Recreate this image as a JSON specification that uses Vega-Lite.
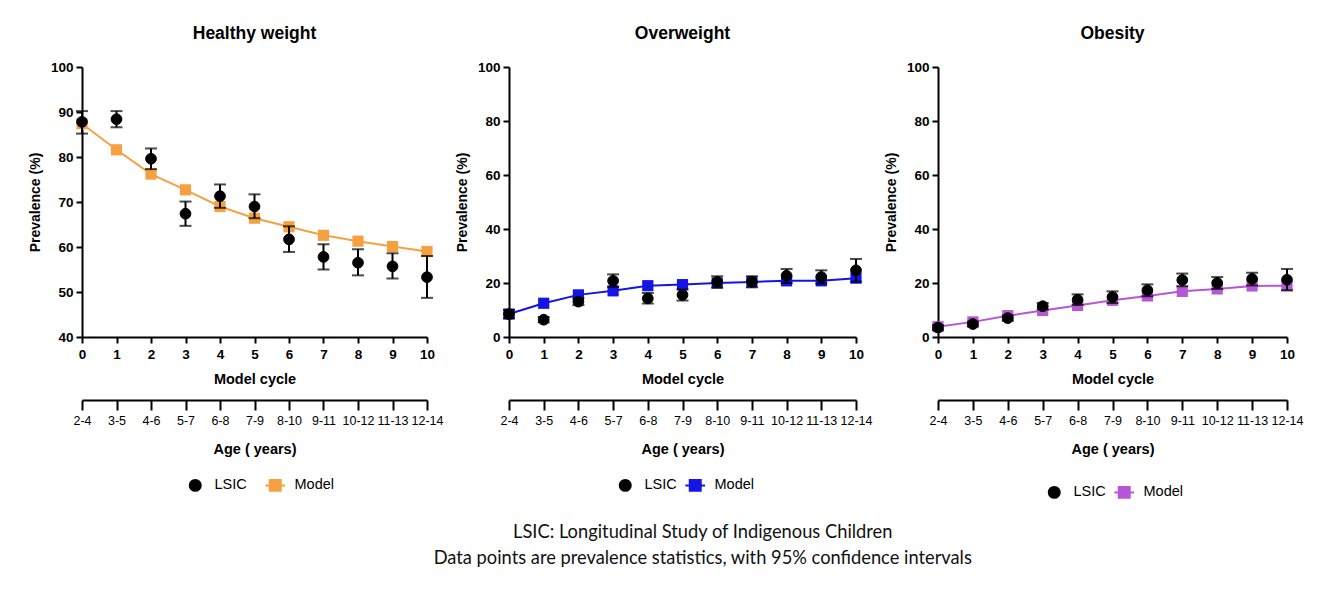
{
  "$schema": "https://vega.github.io/schema/vega-lite/v6.json",
  "padding": {"left": 28, "top": 24, "right": 10, "bottom": 10},
  "background": "white",
  "data": {"values": [
    {"p":"Healthy weight","c":0,"s":"LSIC","v":87.8,"lo":85.2,"hi":90.2},
    {"p":"Healthy weight","c":1,"s":"LSIC","v":88.4,"lo":86.6,"hi":90.2},
    {"p":"Healthy weight","c":2,"s":"LSIC","v":79.6,"lo":77.3,"hi":81.9},
    {"p":"Healthy weight","c":3,"s":"LSIC","v":67.4,"lo":64.7,"hi":70.1},
    {"p":"Healthy weight","c":4,"s":"LSIC","v":71.3,"lo":68.7,"hi":73.9},
    {"p":"Healthy weight","c":5,"s":"LSIC","v":69.0,"lo":66.4,"hi":71.7},
    {"p":"Healthy weight","c":6,"s":"LSIC","v":61.7,"lo":58.9,"hi":64.6},
    {"p":"Healthy weight","c":7,"s":"LSIC","v":57.8,"lo":55.0,"hi":60.6},
    {"p":"Healthy weight","c":8,"s":"LSIC","v":56.5,"lo":53.7,"hi":59.5},
    {"p":"Healthy weight","c":9,"s":"LSIC","v":55.7,"lo":53.0,"hi":58.6},
    {"p":"Healthy weight","c":10,"s":"LSIC","v":53.3,"lo":48.7,"hi":58.0},
    {"p":"Healthy weight","c":0,"s":"Model","v":87.4},
    {"p":"Healthy weight","c":1,"s":"Model","v":81.6},
    {"p":"Healthy weight","c":2,"s":"Model","v":76.2},
    {"p":"Healthy weight","c":3,"s":"Model","v":72.7},
    {"p":"Healthy weight","c":4,"s":"Model","v":69.0},
    {"p":"Healthy weight","c":5,"s":"Model","v":66.4},
    {"p":"Healthy weight","c":6,"s":"Model","v":64.5},
    {"p":"Healthy weight","c":7,"s":"Model","v":62.6},
    {"p":"Healthy weight","c":8,"s":"Model","v":61.3},
    {"p":"Healthy weight","c":9,"s":"Model","v":60.1},
    {"p":"Healthy weight","c":10,"s":"Model","v":59.0},
    {"p":"Overweight","c":0,"s":"LSIC","v":8.5,"lo":7.0,"hi":10.0},
    {"p":"Overweight","c":1,"s":"LSIC","v":6.4,"lo":5.4,"hi":7.4},
    {"p":"Overweight","c":2,"s":"LSIC","v":13.1,"lo":11.8,"hi":14.4},
    {"p":"Overweight","c":3,"s":"LSIC","v":20.8,"lo":18.5,"hi":23.2},
    {"p":"Overweight","c":4,"s":"LSIC","v":14.3,"lo":12.4,"hi":16.3},
    {"p":"Overweight","c":5,"s":"LSIC","v":15.6,"lo":13.5,"hi":17.6},
    {"p":"Overweight","c":6,"s":"LSIC","v":20.4,"lo":18.3,"hi":22.5},
    {"p":"Overweight","c":7,"s":"LSIC","v":20.5,"lo":18.4,"hi":22.5},
    {"p":"Overweight","c":8,"s":"LSIC","v":22.7,"lo":20.0,"hi":25.2},
    {"p":"Overweight","c":9,"s":"LSIC","v":22.2,"lo":19.8,"hi":24.7},
    {"p":"Overweight","c":10,"s":"LSIC","v":24.7,"lo":20.5,"hi":28.9},
    {"p":"Overweight","c":0,"s":"Model","v":8.5},
    {"p":"Overweight","c":1,"s":"Model","v":12.5},
    {"p":"Overweight","c":2,"s":"Model","v":15.6},
    {"p":"Overweight","c":3,"s":"Model","v":17.1},
    {"p":"Overweight","c":4,"s":"Model","v":19.0},
    {"p":"Overweight","c":5,"s":"Model","v":19.4},
    {"p":"Overweight","c":6,"s":"Model","v":20.0},
    {"p":"Overweight","c":7,"s":"Model","v":20.4},
    {"p":"Overweight","c":8,"s":"Model","v":20.8},
    {"p":"Overweight","c":9,"s":"Model","v":20.8},
    {"p":"Overweight","c":10,"s":"Model","v":21.8},
    {"p":"Obesity","c":0,"s":"LSIC","v":3.5,"lo":2.6,"hi":4.4},
    {"p":"Obesity","c":1,"s":"LSIC","v":4.8,"lo":3.9,"hi":5.7},
    {"p":"Obesity","c":2,"s":"LSIC","v":7.0,"lo":6.0,"hi":8.0},
    {"p":"Obesity","c":3,"s":"LSIC","v":11.4,"lo":10.2,"hi":12.6},
    {"p":"Obesity","c":4,"s":"LSIC","v":13.8,"lo":11.9,"hi":15.8},
    {"p":"Obesity","c":5,"s":"LSIC","v":14.8,"lo":12.6,"hi":16.9},
    {"p":"Obesity","c":6,"s":"LSIC","v":17.3,"lo":15.1,"hi":19.5},
    {"p":"Obesity","c":7,"s":"LSIC","v":21.1,"lo":18.8,"hi":23.5},
    {"p":"Obesity","c":8,"s":"LSIC","v":20.0,"lo":17.8,"hi":22.2},
    {"p":"Obesity","c":9,"s":"LSIC","v":21.5,"lo":19.1,"hi":23.8},
    {"p":"Obesity","c":10,"s":"LSIC","v":21.2,"lo":17.3,"hi":25.2},
    {"p":"Obesity","c":0,"s":"Model","v":3.8},
    {"p":"Obesity","c":1,"s":"Model","v":5.6},
    {"p":"Obesity","c":2,"s":"Model","v":7.9},
    {"p":"Obesity","c":3,"s":"Model","v":9.8},
    {"p":"Obesity","c":4,"s":"Model","v":11.7},
    {"p":"Obesity","c":5,"s":"Model","v":13.6},
    {"p":"Obesity","c":6,"s":"Model","v":15.2},
    {"p":"Obesity","c":7,"s":"Model","v":16.9},
    {"p":"Obesity","c":8,"s":"Model","v":17.8},
    {"p":"Obesity","c":9,"s":"Model","v":18.9},
    {"p":"Obesity","c":10,"s":"Model","v":19.0}
  ]},
  "title": {
    "text": ["LSIC: Longitudinal Study of Indigenous Children", "Data points are prevalence statistics, with 95% confidence intervals"],
    "orient": "bottom", "anchor": "middle", "font": "Lato", "fontSize": 18.3, "fontWeight": "normal", "color": "#111", "lineHeight": 26, "offset": 22, "dx": 37
  },
  "spacing": 12,
  "resolve": {"scale": {"color": "independent", "shape": "independent", "stroke": "independent", "x": "independent", "y": "independent"}},
  "hconcat": [
    {
      "width": 345, "height": 270,
      "title": {"text": "Healthy weight"},
      "transform": [{"filter": "datum.p == 'Healthy weight'"}],
      "resolve": {"axis": {"x": "independent"}},
      "encoding": {
        "x": {"field": "c", "type": "quantitative", "scale": {"domain": [0, 10], "nice": false}},
        "y": {"field": "v", "type": "quantitative", "scale": {"domain": [40, 100], "nice": false, "zero": false},
              "axis": {"title": "Prevalence (%)", "values": [40, 50, 60, 70, 80, 90, 100]}}
      },
      "layer": [
        {"transform": [{"filter": "datum.s == 'Model'"}], "mark": {"type": "line", "color": "#F5A142", "strokeWidth": 2},
         "encoding": {"x": {"field": "c", "type": "quantitative", "axis": {"title": "Model cycle", "values": [0,1,2,3,4,5,6,7,8,9,10]}}}},
        {"transform": [{"filter": "datum.s == 'Model'"}], "mark": {"type": "point", "filled": true, "opacity": 1, "size": 125, "shape": "square", "color": "#F5A142"},
         "encoding": {"x": {"field": "c", "type": "quantitative", "axis": null}}},
        {"transform": [{"filter": "datum.s == 'LSIC'"}], "mark": {"type": "errorbar", "ticks": true, "size": 12, "thickness": 2, "color": "black"},
         "encoding": {"x": {"field": "c", "type": "quantitative", "axis": null}, "y": {"field": "lo", "type": "quantitative"}, "y2": {"field": "hi"}}},
        {"transform": [{"filter": "datum.s == 'LSIC'"}], "mark": {"type": "point", "filled": true, "opacity": 1, "size": 115, "strokeWidth": 1},
         "encoding": {"x": {"field": "c", "type": "quantitative", "axis": null},
           "color": {"field": "s", "type": "nominal", "scale": {"domain": ["LSIC", "Model"], "range": ["black", "#F5A142"]},
             "legend": {"orient": "none", "legendX": 106, "legendY": 411, "direction": "horizontal", "title": null, "columnPadding": 14}},
           "stroke": {"field": "s", "type": "nominal", "scale": {"domain": ["LSIC", "Model"], "range": ["black", "#F5A142"]}},
           "shape": {"field": "s", "type": "nominal", "scale": {"domain": ["LSIC", "Model"], "range": ["circle", "M-1.8,0H1.8M-1,-1H1V1H-1Z"]}}}},
        {"transform": [{"filter": "datum.s == 'Model'"}], "mark": {"type": "point", "opacity": 0},
         "encoding": {"x": {"field": "c", "type": "quantitative", "axis": {"title": "Age ( years)", "orient": "bottom", "offset": 63, "values": [0,1,2,3,4,5,6,7,8,9,10],
           "labelExpr": "(datum.value + 2) + '-' + (datum.value + 4)", "labelFontWeight": "normal", "labelFontSize": 12.5, "tickSize": 10, "titlePadding": 16}}}}
      ]
    },
    {
      "width": 347, "height": 270,
      "title": {"text": "Overweight"},
      "transform": [{"filter": "datum.p == 'Overweight'"}],
      "resolve": {"axis": {"x": "independent"}},
      "encoding": {
        "x": {"field": "c", "type": "quantitative", "scale": {"domain": [0, 10], "nice": false}},
        "y": {"field": "v", "type": "quantitative", "scale": {"domain": [0, 100], "nice": false},
              "axis": {"title": "Prevalence (%)", "values": [0, 20, 40, 60, 80, 100]}}
      },
      "layer": [
        {"transform": [{"filter": "datum.s == 'Model'"}], "mark": {"type": "line", "color": "#1414E6", "strokeWidth": 2},
         "encoding": {"x": {"field": "c", "type": "quantitative", "axis": {"title": "Model cycle", "values": [0,1,2,3,4,5,6,7,8,9,10]}}}},
        {"transform": [{"filter": "datum.s == 'Model'"}], "mark": {"type": "point", "filled": true, "opacity": 1, "size": 125, "shape": "square", "color": "#1414E6"},
         "encoding": {"x": {"field": "c", "type": "quantitative", "axis": null}}},
        {"transform": [{"filter": "datum.s == 'LSIC'"}], "mark": {"type": "errorbar", "ticks": true, "size": 12, "thickness": 2, "color": "black"},
         "encoding": {"x": {"field": "c", "type": "quantitative", "axis": null}, "y": {"field": "lo", "type": "quantitative"}, "y2": {"field": "hi"}}},
        {"transform": [{"filter": "datum.s == 'LSIC'"}], "mark": {"type": "point", "filled": true, "opacity": 1, "size": 115, "strokeWidth": 1},
         "encoding": {"x": {"field": "c", "type": "quantitative", "axis": null},
           "color": {"field": "s", "type": "nominal", "scale": {"domain": ["LSIC", "Model"], "range": ["black", "#1414E6"]},
             "legend": {"orient": "none", "legendX": 109, "legendY": 411, "direction": "horizontal", "title": null, "columnPadding": 4}},
           "stroke": {"field": "s", "type": "nominal", "scale": {"domain": ["LSIC", "Model"], "range": ["black", "#1414E6"]}},
           "shape": {"field": "s", "type": "nominal", "scale": {"domain": ["LSIC", "Model"], "range": ["circle", "M-1.8,0H1.8M-1,-1H1V1H-1Z"]}}}},
        {"transform": [{"filter": "datum.s == 'Model'"}], "mark": {"type": "point", "opacity": 0},
         "encoding": {"x": {"field": "c", "type": "quantitative", "axis": {"title": "Age ( years)", "orient": "bottom", "offset": 63, "values": [0,1,2,3,4,5,6,7,8,9,10],
           "labelExpr": "(datum.value + 2) + '-' + (datum.value + 4)", "labelFontWeight": "normal", "labelFontSize": 12.5, "tickSize": 10, "titlePadding": 16}}}}
      ]
    },
    {
      "width": 349, "height": 270,
      "title": {"text": "Obesity"},
      "transform": [{"filter": "datum.p == 'Obesity'"}],
      "resolve": {"axis": {"x": "independent"}},
      "encoding": {
        "x": {"field": "c", "type": "quantitative", "scale": {"domain": [0, 10], "nice": false}},
        "y": {"field": "v", "type": "quantitative", "scale": {"domain": [0, 100], "nice": false},
              "axis": {"title": "Prevalence (%)", "values": [0, 20, 40, 60, 80, 100]}}
      },
      "layer": [
        {"transform": [{"filter": "datum.s == 'Model'"}], "mark": {"type": "line", "color": "#B656D8", "strokeWidth": 2},
         "encoding": {"x": {"field": "c", "type": "quantitative", "axis": {"title": "Model cycle", "values": [0,1,2,3,4,5,6,7,8,9,10]}}}},
        {"transform": [{"filter": "datum.s == 'Model'"}], "mark": {"type": "point", "filled": true, "opacity": 1, "size": 125, "shape": "square", "color": "#B656D8"},
         "encoding": {"x": {"field": "c", "type": "quantitative", "axis": null}}},
        {"transform": [{"filter": "datum.s == 'LSIC'"}], "mark": {"type": "errorbar", "ticks": true, "size": 12, "thickness": 2, "color": "black"},
         "encoding": {"x": {"field": "c", "type": "quantitative", "axis": null}, "y": {"field": "lo", "type": "quantitative"}, "y2": {"field": "hi"}}},
        {"transform": [{"filter": "datum.s == 'LSIC'"}], "mark": {"type": "point", "filled": true, "opacity": 1, "size": 115, "strokeWidth": 1},
         "encoding": {"x": {"field": "c", "type": "quantitative", "axis": null},
           "color": {"field": "s", "type": "nominal", "scale": {"domain": ["LSIC", "Model"], "range": ["black", "#B656D8"]},
             "legend": {"orient": "none", "legendX": 109, "legendY": 418, "direction": "horizontal", "title": null, "columnPadding": 4}},
           "stroke": {"field": "s", "type": "nominal", "scale": {"domain": ["LSIC", "Model"], "range": ["black", "#B656D8"]}},
           "shape": {"field": "s", "type": "nominal", "scale": {"domain": ["LSIC", "Model"], "range": ["circle", "M-1.8,0H1.8M-1,-1H1V1H-1Z"]}}}},
        {"transform": [{"filter": "datum.s == 'Model'"}], "mark": {"type": "point", "opacity": 0},
         "encoding": {"x": {"field": "c", "type": "quantitative", "axis": {"title": "Age ( years)", "orient": "bottom", "offset": 63, "values": [0,1,2,3,4,5,6,7,8,9,10],
           "labelExpr": "(datum.value + 2) + '-' + (datum.value + 4)", "labelFontWeight": "normal", "labelFontSize": 12.5, "tickSize": 10, "titlePadding": 16}}}}
      ]
    }
  ],
  "config": {
    "font": "Liberation Sans",
    "view": {"stroke": null},
    "title": {"fontSize": 17.5, "fontWeight": "bold", "color": "black", "offset": 18, "font": "Liberation Sans"},
    "axis": {
      "grid": false, "domainColor": "black", "domainWidth": 2, "tickColor": "black", "tickWidth": 2, "tickSize": 6,
      "labelColor": "black", "labelFontSize": 13.5, "labelFontWeight": "bold", "labelPadding": 4,
      "titleColor": "black", "titleFontSize": 14.5, "titleFontWeight": "bold", "titlePadding": 12, "labelFlush": false
    },
    "axisY": {"titleFontSize": 14, "titlePadding": 8, "labelPadding": 3},
    "legend": {"labelFontSize": 14.5, "labelColor": "black", "symbolSize": 120, "labelOffset": 12, "symbolStrokeWidth": 2}
  }
}
